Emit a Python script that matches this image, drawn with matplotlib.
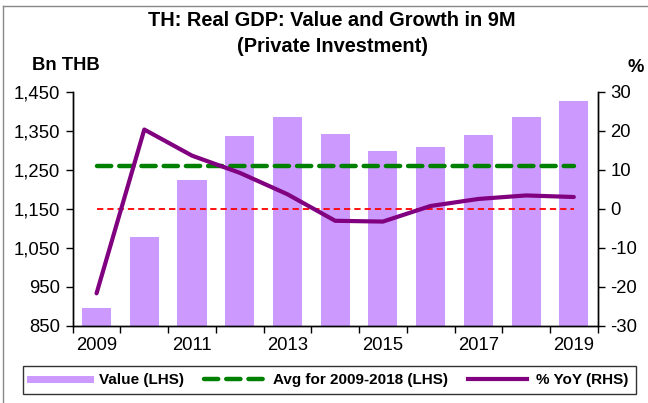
import matplotlib
matplotlib.use("Agg")
import matplotlib.pyplot as plt
from matplotlib.lines import Line2D
from matplotlib.ticker import FuncFormatter, FixedLocator

plt.rcParams['font.family'] = ['Liberation Sans', 'DejaVu Sans']
plt.rcParams['axes.unicode_minus'] = False

years = [2009, 2010, 2011, 2012, 2013, 2014, 2015, 2016, 2017, 2018, 2019]
value_bn_thb = [895, 1077, 1224, 1336, 1385, 1342, 1298, 1307, 1340, 1385, 1427]
yoy_pct = [-21.7, 20.3, 13.6, 9.2, 3.7, -3.1, -3.3, 0.7, 2.5, 3.4, 3.0]
avg_2009_2018 = 1258.9
zero_line_lhs = 1150
tick_year_labels = ['2009', '2011', '2013', '2015', '2017', '2019']

W, H = 648, 403
fig = plt.figure(figsize=(W / 100, H / 100), dpi=100)

def px(x0, y0, x1, y1):
    return [x0 / W, 1 - y1 / H, (x1 - x0) / W, (y1 - y0) / H]

ax = fig.add_axes(px(72.7, 91.7, 597.7, 325.7))
ax2 = ax.twinx()

xs = list(range(len(years)))
ax.bar(xs, value_bn_thb, width=0.61, color='#CC99FF', zorder=2)
ax.plot([xs[0], xs[-1]], [avg_2009_2018] * 2, color='#008000', lw=3.2,
        dashes=(3.2, 1.8), dash_capstyle='round', zorder=3)
ax.plot([xs[0], xs[-1]], [zero_line_lhs] * 2, color='#FF0000', lw=1.3,
        dashes=(3.5, 2.2), zorder=3)
ax2.plot(xs, yoy_pct, color='#800080', lw=3.0, solid_capstyle='round',
         solid_joinstyle='round', zorder=4)

ax.set_xlim(-0.5, len(years) - 0.5)
ax.set_ylim(850, 1450)
ax2.set_ylim(-30, 30)
ax.set_yticks(range(850, 1451, 100))
ax.yaxis.set_major_formatter(FuncFormatter(lambda v, p: f"{int(v):,}"))
ax2.set_yticks(range(-30, 31, 10))

ax.xaxis.set_major_locator(FixedLocator(xs[::2]))
ax.set_xticklabels(tick_year_labels)
ax.xaxis.set_minor_locator(FixedLocator([i - 0.5 for i in range(len(years) + 1)]))
ax.tick_params(axis='x', which='major', length=0, pad=8, labelsize=13.3)
ax.tick_params(axis='x', which='minor', length=5, width=1, direction='out')
ax.tick_params(axis='y', length=5, width=1, direction='out', labelsize=13.3, pad=4)
ax2.tick_params(axis='y', length=5, width=1, direction='out', labelsize=13.3, pad=4)

for a in (ax, ax2):
    a.spines['top'].set_visible(False)
    for s in ('left', 'right', 'bottom'):
        a.spines[s].set_linewidth(1.0)
        a.spines[s].set_color('black')
ax2.patch.set_visible(False)

fig.text(332 / W, 1 - 21 / H, 'TH: Real GDP: Value and Growth in 9M',
         ha='center', va='center', fontsize=14.4, fontweight='bold')
fig.text(332 / W, 1 - 46 / H, '(Private Investment)',
         ha='center', va='center', fontsize=14.4, fontweight='bold')
fig.text(32 / W, 1 - 65 / H, 'Bn THB', ha='left', va='center',
         fontsize=13.2, fontweight='bold')
fig.text(636 / W, 1 - 67 / H, '%', ha='center', va='center',
         fontsize=13.2, fontweight='bold')

handles = [
    Line2D([], [], color='#CC99FF', lw=5),
    Line2D([], [], color='#008000', lw=3.2, dashes=(3.2, 1.8), dash_capstyle='round'),
    Line2D([], [], color='#800080', lw=3.0),
]
labels = ['Value (LHS)', 'Avg for 2009-2018 (LHS)', '% YoY (RHS)']
leg = fig.legend(handles, labels, loc='center',
                 bbox_to_anchor=(329.5 / W, 1 - 380 / H),
                 ncol=3, frameon=True, fancybox=False, edgecolor='black',
                 prop={'weight': 'bold', 'size': 11}, handlelength=3.9,
                 columnspacing=1.3, handletextpad=0.6, borderpad=0.45,
                 borderaxespad=0)
leg.get_frame().set_linewidth(1.0)

fig.add_artist(Line2D([3 / W, 3 / W], [0, 1 - 6 / H], color='#888888', lw=1))
fig.add_artist(Line2D([3 / W, 1], [1 - 6 / H, 1 - 6 / H], color='#888888', lw=1))

fig.savefig('out.png', dpi=100)
